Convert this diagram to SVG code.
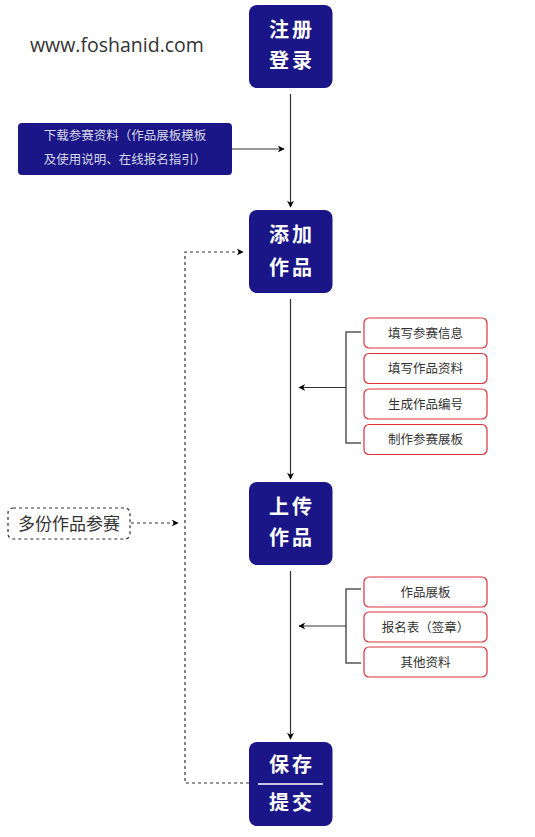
<svg xmlns="http://www.w3.org/2000/svg" width="535" height="837" viewBox="0 0 535 837">
<style>
.node{fill:#1a1687;}
.nt{font-family:"Noto Sans CJK SC","Noto Sans",sans-serif;font-size:20px;font-weight:bold;fill:#fff;text-anchor:middle;letter-spacing:3px;}
.rb{fill:#fff;stroke:#d8343c;stroke-width:1.2;}
.rt{font-family:"Noto Sans CJK SC","Noto Sans",sans-serif;font-size:12.5px;fill:#333;text-anchor:middle;}
.line{stroke:#333;stroke-width:1.2;fill:none;}
.br{stroke:#555;stroke-width:1.5;fill:none;}
.dash{stroke:#333;stroke-width:1.2;fill:none;stroke-dasharray:3,3;}
</style>
<defs>
<marker id="ah" viewBox="0 0 10 10" refX="9" refY="5" markerWidth="7" markerHeight="7" markerUnits="userSpaceOnUse" orient="auto">
<path d="M0,0 L10,5 L0,10 L3,5 Z" fill="#000"/>
</marker>
</defs>
<text x="30" y="52" font-family="Open Sans, sans-serif" font-size="19.5" fill="#333">www.foshanid.com</text>
<g id="connectors">
<line class="line" x1="290.5" y1="94" x2="290.5" y2="207" marker-end="url(#ah)"/>
<line class="line" x1="290.5" y1="299" x2="290.5" y2="479" marker-end="url(#ah)"/>
<line class="line" x1="290.5" y1="571" x2="290.5" y2="739" marker-end="url(#ah)"/>
<line class="line" x1="232" y1="149" x2="284" y2="149" marker-end="url(#ah)"/>
<polyline class="br" points="361,332 346,332 346,443 361,443"/>
<line class="line" x1="346" y1="387.5" x2="299" y2="387.5" marker-end="url(#ah)"/>
<polyline class="br" points="361,589 346,589 346,663 361,663"/>
<line class="line" x1="346" y1="626" x2="299" y2="626" marker-end="url(#ah)"/>
<polyline class="dash" points="249,783 185,783 185,252 243,252" marker-end="url(#ah)"/>
<line class="dash" x1="131" y1="523" x2="178" y2="523" marker-end="url(#ah)"/>
</g>
<g id="n1">
<rect class="node" x="249" y="5" width="83.5" height="83" rx="8"/>
<text class="nt" x="292" y="37">注册</text>
<text class="nt" x="292" y="68">登录</text>
</g>
<g id="n2">
<rect class="node" x="249" y="210" width="83.5" height="83" rx="8"/>
<text class="nt" x="292" y="242">添加</text>
<text class="nt" x="292" y="275">作品</text>
</g>
<g id="n3">
<rect class="node" x="249" y="482" width="83.5" height="83" rx="8"/>
<text class="nt" x="292" y="514">上传</text>
<text class="nt" x="292" y="545">作品</text>
</g>
<g id="n4">
<rect class="node" x="249" y="742" width="83.5" height="84" rx="8"/>
<text class="nt" x="292" y="772">保存</text>
<line x1="258" y1="784" x2="323" y2="784" stroke="#fff" stroke-width="1.5"/>
<text class="nt" x="292" y="810">提交</text>
</g>
<g id="dl">
<rect class="node" x="18" y="123" width="214" height="52" rx="4"/>
<text x="125" y="140" font-family="Noto Sans CJK SC, sans-serif" font-size="12.5" fill="#d8d8e6" text-anchor="middle">下载参赛资料（作品展板模板</text>
<text x="125" y="164" font-family="Noto Sans CJK SC, sans-serif" font-size="12.5" fill="#d8d8e6" text-anchor="middle">及使用说明、在线报名指引）</text>
</g>
<g id="r1"><rect class="rb" x="364" y="318" width="123" height="30" rx="5"/><text class="rt" x="425.5" y="337.5">填写参赛信息</text></g>
<g id="r2"><rect class="rb" x="364" y="353.5" width="123" height="30" rx="5"/><text class="rt" x="425.5" y="373">填写作品资料</text></g>
<g id="r3"><rect class="rb" x="364" y="389" width="123" height="30" rx="5"/><text class="rt" x="425.5" y="408.5">生成作品编号</text></g>
<g id="r4"><rect class="rb" x="364" y="424.5" width="123" height="30" rx="5"/><text class="rt" x="425.5" y="444">制作参赛展板</text></g>
<g id="s1"><rect class="rb" x="364" y="577" width="123" height="30" rx="5"/><text class="rt" x="425.5" y="596.5">作品展板</text></g>
<g id="s2"><rect class="rb" x="364" y="612" width="123" height="30" rx="5"/><text class="rt" x="425.5" y="631.5">报名表（签章）</text></g>
<g id="s3"><rect class="rb" x="364" y="647" width="123" height="30" rx="5"/><text class="rt" x="425.5" y="666.5">其他资料</text></g>
<g id="multi">
<rect x="8" y="508" width="122" height="31" rx="5" fill="#fff" stroke="#333" stroke-width="1.2" stroke-dasharray="3,3"/>
<text x="69" y="530" font-family="Noto Sans CJK SC, sans-serif" font-size="17" fill="#333" text-anchor="middle">多份作品参赛</text>
</g>
</svg>
